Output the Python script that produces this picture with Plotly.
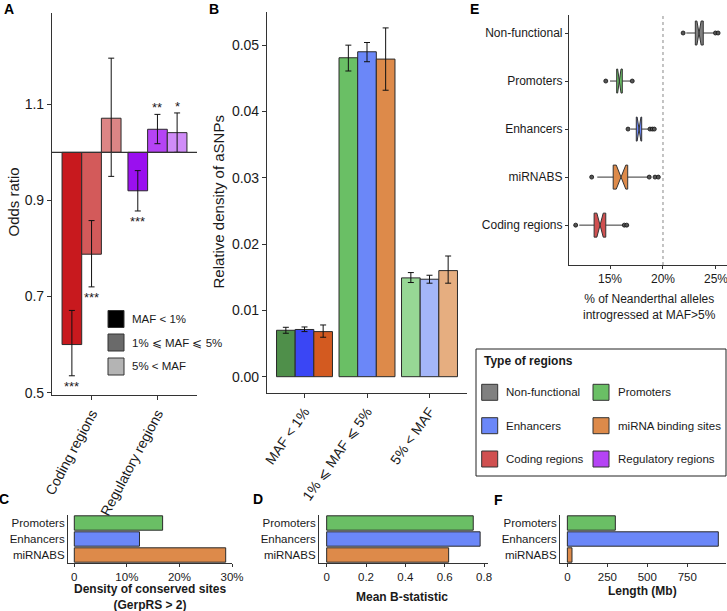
import plotly.graph_objects as go

W, H = 727, 611
def px(x): return x / W
def py(y): return 1 - y / H

FONT = "Liberation Sans, Arial, sans-serif"
AX = "#333333"
TXT = "#1a1a1a"

# ---------------- Panel A data ----------------
a_categories = ["Coding regions", "Regulatory regions"]
a_classes = ["MAF < 1%", "1% ⩽ MAF ⩽ 5%", "5% < MAF"]
a_odds_lt1 = [0.600, 0.920]
a_odds_1to5 = [0.788, 1.048]
a_odds_gt5 = [1.071, 1.041]
a_low_lt1 = [0.535, 0.878]
a_low_1to5 = [0.720, 1.018]
a_low_gt5 = [0.950, 1.000]
a_high_lt1 = [0.671, 0.962]
a_high_1to5 = [0.858, 1.079]
a_high_gt5 = [1.196, 1.082]
a_sig_lt1 = ["***", "***"]
a_sig_1to5 = ["***", "**"]
a_sig_gt5 = ["", "*"]
a_colors = [["#c8191e", "#9a10ef"], ["#d35a5a", "#b543f5"], ["#dc8585", "#d08cf8"]]
a_legend_colors = ["#000000", "#6a6a6a", "#b4b4b4"]

# ---------------- Panel B data ----------------
b_groups = ["MAF < 1%", "1% ⩽ MAF ⩽ 5%", "5% < MAF"]
b_regions = ["Promoters", "Enhancers", "miRNA binding sites"]
b_prom = [0.00700, 0.0481, 0.0149]
b_enh = [0.00712, 0.0490, 0.0147]
b_mir = [0.00680, 0.0479, 0.0160]
b_prom_lo = [0.00655, 0.0461, 0.0142]
b_prom_hi = [0.00745, 0.0500, 0.0157]
b_enh_lo = [0.00680, 0.0475, 0.0141]
b_enh_hi = [0.00750, 0.0504, 0.0153]
b_mir_lo = [0.00595, 0.0432, 0.0141]
b_mir_hi = [0.00780, 0.0526, 0.0182]
b_colors = [["#4f8f4a", "#6abf65", "#97d795"],
            ["#3a46f5", "#6b87f8", "#a4b6f9"],
            ["#d35a20", "#dd8a4a", "#e6ae80"]]

# ---------------- Panel E data ----------------
e_regions = ["Non-functional", "Promoters", "Enhancers", "miRNABS", "Coding regions"]
e_q1 = [23.05, 15.63, 17.48, 15.30, 13.50]
e_med = [23.40, 15.88, 17.74, 16.04, 14.06]
e_q3 = [23.80, 16.16, 17.99, 16.67, 14.60]
e_lo = [22.20, 15.00, 16.95, 13.80, 12.10]
e_hi = [24.75, 16.90, 18.60, 18.60, 16.26]
e_notch = [0.20, 0.16, 0.18, 0.45, 0.30]
e_out_x = [21.90, 24.95, 25.20, 14.60, 17.10, 16.70, 18.77, 18.99, 19.18,
           13.27, 18.70, 19.25, 19.56, 11.76, 16.35, 16.58]
e_out_y = ["Non-functional", "Non-functional", "Non-functional", "Promoters", "Promoters",
           "Enhancers", "Enhancers", "Enhancers", "Enhancers",
           "miRNABS", "miRNABS", "miRNABS", "miRNABS",
           "Coding regions", "Coding regions", "Coding regions"]
e_colors = ["#808080", "#6abf65", "#6b87f8", "#dd8a4a", "#d05050"]

# ---------------- Panels C, D, F data ----------------
cdf_regions = ["Promoters", "Enhancers", "miRNABS"]
cdf_colors = ["#6abf65", "#6b87f8", "#dd8a4a"]
c_conserved = [16.8, 12.4, 28.8]
d_bstat = [0.745, 0.780, 0.620]
f_length = [300, 944, 29]

# ---------------- Legend (E) data ----------------
leg_labels = ["Non-functional", "Promoters", "Enhancers", "miRNA binding sites",
              "Coding regions", "Regulatory regions"]
leg_colors = ["#808080", "#6abf65", "#6b87f8", "#dd8a4a", "#d05050", "#b543f5"]

BARGAP = 0.105
fig = go.Figure()

# ---- Panel A bars ----
a_vals = [a_odds_lt1, a_odds_1to5, a_odds_gt5]
a_lows = [a_low_lt1, a_low_1to5, a_low_gt5]
a_highs = [a_high_lt1, a_high_1to5, a_high_gt5]
a_sigs = [a_sig_lt1, a_sig_1to5, a_sig_gt5]
w = (1 - BARGAP) / 3
offs = [-w, 0, w]
for k in range(3):
    fig.add_trace(go.Bar(
        x=[0, 1], y=[v - 1 for v in a_vals[k]], base=1,
        marker=dict(color=a_colors[k], line=dict(color="#2a2a2a", width=1)),
        xaxis="x", yaxis="y", showlegend=False, name=a_classes[k]))
for k in range(3):
    xs = [i + offs[k] for i in range(2)]
    fig.add_trace(go.Scatter(
        x=xs, y=a_vals[k], mode="markers", marker=dict(size=0.1, color="rgba(0,0,0,0)"),
        error_y=dict(type="data", symmetric=False,
                     array=[h - v for h, v in zip(a_highs[k], a_vals[k])],
                     arrayminus=[v - l for l, v in zip(a_lows[k], a_vals[k])],
                     color="#111", thickness=1, width=3),
        xaxis="x", yaxis="y", showlegend=False, hoverinfo="skip"))

annotations = []
for k in range(3):
    for i in range(2):
        s = a_sigs[k][i]
        if not s:
            continue
        if a_vals[k][i] < 1:
            annotations.append(dict(x=i + offs[k], y=a_lows[k][i], xref="x", yref="y",
                                    text=s, showarrow=False, xanchor="center",
                                    yanchor="top", yshift=-1,
                                    font=dict(size=13, color=TXT, family=FONT)))
        else:
            annotations.append(dict(x=i + offs[k], y=a_highs[k][i], xref="x", yref="y",
                                    text=s, showarrow=False, xanchor="center",
                                    yanchor="bottom", yshift=-3,
                                    font=dict(size=13, color=TXT, family=FONT)))

# ---- Panel B bars ----
b_vals = [b_prom, b_enh, b_mir]
b_lows = [b_prom_lo, b_enh_lo, b_mir_lo]
b_highs = [b_prom_hi, b_enh_hi, b_mir_hi]
for k in range(3):
    fig.add_trace(go.Bar(
        x=[0, 1, 2], y=b_vals[k],
        marker=dict(color=b_colors[k], line=dict(color="#2a2a2a", width=1)),
        xaxis="x2", yaxis="y2", showlegend=False, name=b_regions[k]))
for k in range(3):
    xs = [i + offs[k] for i in range(3)]
    fig.add_trace(go.Scatter(
        x=xs, y=b_vals[k], mode="markers", marker=dict(size=0.1, color="rgba(0,0,0,0)"),
        error_y=dict(type="data", symmetric=False,
                     array=[h - v for h, v in zip(b_highs[k], b_vals[k])],
                     arrayminus=[v - l for l, v in zip(b_lows[k], b_vals[k])],
                     color="#111", thickness=1, width=3),
        xaxis="x2", yaxis="y2", showlegend=False, hoverinfo="skip"))

# ---- Panel E boxes ----
for i, name in enumerate(e_regions):
    fig.add_trace(go.Box(
        y=[name], q1=[e_q1[i]], median=[e_med[i]], q3=[e_q3[i]],
        lowerfence=[e_lo[i]], upperfence=[e_hi[i]], notchspan=[e_notch[i]],
        notched=True, notchwidth=0.5, orientation="h", fillcolor=e_colors[i],
        line=dict(color="#333", width=1), width=0.5, whiskerwidth=0,
        boxpoints=False, xaxis="x3", yaxis="y3", showlegend=False, name=name))
fig.add_trace(go.Scatter(
    x=e_out_x, y=e_out_y, mode="markers",
    marker=dict(size=4, color="#555", line=dict(color="#111", width=0.8)),
    xaxis="x3", yaxis="y3", showlegend=False))

# ---- Panels C, D, F ----
for vals, ax in [(c_conserved, "4"), (d_bstat, "5"), (f_length, "6")]:
    fig.add_trace(go.Bar(
        y=cdf_regions, x=vals, orientation="h", width=0.9,
        marker=dict(color=cdf_colors, line=dict(color="#2a2a2a", width=1)),
        xaxis="x" + ax, yaxis="y" + ax, showlegend=False))

def axis(**kw):
    base = dict(showline=True, linecolor=AX, linewidth=1.1, ticks="outside",
                ticklen=4, tickcolor=AX, tickwidth=1, showgrid=False, zeroline=False,
                automargin=False, ticklabeloverflow="allow",
                tickfont=dict(size=14, color=TXT, family=FONT), fixedrange=True)
    base.update(kw)
    return base

small_tick = dict(size=12, color=TXT, family=FONT)
bottom_tick = dict(size=11.5, color=TXT, family=FONT)
cat_tick = dict(size=11.5, color=TXT, family=FONT)

layout = dict(
    width=W, height=H, autosize=False,
    margin=dict(l=0, r=0, t=0, b=0, pad=0, autoexpand=False),
    paper_bgcolor="white", plot_bgcolor="white",
    barmode="group", bargap=BARGAP, bargroupgap=0,
    font=dict(family=FONT, color=TXT),
    xaxis=axis(domain=[px(52), px(197)], anchor="y", range=[-0.6, 1.6],
               tickvals=[0, 1], ticktext=a_categories, tickangle=-62),
    yaxis=axis(domain=[py(395), py(13)], anchor="x", range=[0.495, 1.29],
               tickvals=[0.5, 0.7, 0.9, 1.1], ticktext=["0.5", "0.7", "0.9", "1.1"]),
    xaxis2=axis(domain=[px(267), px(467)], anchor="y2", range=[-0.6, 2.6],
                tickvals=[0, 1, 2], ticktext=b_groups, tickangle=-55),
    yaxis2=axis(domain=[py(393), py(12)], anchor="x2", range=[-0.00246, 0.0550],
                tickvals=[0, 0.01, 0.02, 0.03, 0.04, 0.05],
                ticktext=["0.00", "0.01", "0.02", "0.03", "0.04", "0.05"]),
    xaxis3=axis(domain=[px(569), px(727)], anchor="y3", range=[11.13, 26.04],
                tickvals=[15, 20, 25], ticktext=["15%", "20%", "25%"], ticklen=3,
                tickfont=small_tick),
    yaxis3=axis(domain=[py(265), py(15)], anchor="x3", type="category",
                categoryarray=e_regions[::-1], categoryorder="array",
                range=[-0.83, 4.375], ticklen=3, tickfont=small_tick),
    xaxis4=axis(domain=[px(68), px(232)], anchor="y4", range=[-1.2, 30.0],
                tickvals=[0, 10, 20, 30], ticktext=["0", "10%", "20%", "30%"],
                ticklen=3, tickfont=bottom_tick),
    yaxis4=axis(domain=[py(563), py(515)], anchor="x4", type="category",
                categoryarray=cdf_regions[::-1], categoryorder="array",
                range=[-0.5, 2.5], ticks="", tickfont=cat_tick),
    xaxis5=axis(domain=[px(319), px(488)], anchor="y5", range=[-0.039, 0.82],
                tickvals=[0, 0.2, 0.4, 0.6, 0.8], ticktext=["0", "0.2", "0.4", "0.6", "0.8"],
                ticklen=3, tickfont=bottom_tick),
    yaxis5=axis(domain=[py(563), py(515)], anchor="x5", type="category",
                categoryarray=cdf_regions[::-1], categoryorder="array",
                range=[-0.5, 2.5], ticks="", tickfont=cat_tick),
    xaxis6=axis(domain=[px(560), px(726)], anchor="y6", range=[-46, 992],
                tickvals=[0, 250, 500, 750], ticktext=["0", "250", "500", "750"],
                ticklen=3, tickfont=bottom_tick),
    yaxis6=axis(domain=[py(563), py(515)], anchor="x6", type="category",
                categoryarray=cdf_regions[::-1], categoryorder="array",
                range=[-0.5, 2.5], ticks="", tickfont=cat_tick),
)

shapes = []
# reference line at OR = 1
shapes.append(dict(type="line", xref="x domain", yref="y", x0=0, x1=1, y0=1, y1=1,
                   line=dict(color="#333", width=1.1)))
# dotted line at 20% in E
shapes.append(dict(type="line", xref="x3", yref="y3 domain", x0=20, x1=20, y0=0, y1=1,
                   line=dict(color="#888", width=1, dash="dot")))

def note(x, y, text, size=12, angle=0, xanchor="center", color=TXT):
    return dict(x=px(x), y=py(y), xref="paper", yref="paper", text=text,
                showarrow=False, xanchor=xanchor, yanchor="middle", textangle=angle,
                align="center", font=dict(size=size, color=color, family=FONT))

# Panel A legend
leg_a_y = [319, 342.5, 366.5]
for k in range(3):
    shapes.append(dict(type="rect", xref="paper", yref="paper",
                       x0=px(108), x1=px(124), y0=py(leg_a_y[k] + 8.5), y1=py(leg_a_y[k] - 8.5),
                       fillcolor=a_legend_colors[k], line=dict(color="#333", width=1)))
    annotations.append(note(130, leg_a_y[k], a_classes[k], size=11.5, xanchor="left"))

# Type of regions legend box
shapes.append(dict(type="rect", xref="paper", yref="paper",
                   x0=px(476), x1=px(726), y0=py(476), y1=py(349),
                   fillcolor="white", line=dict(color="#222", width=1), layer="below"))
annotations.append(note(482, 361, "<b>Type of regions</b>", size=12, xanchor="left"))
rows_y = [392.3, 425.7, 459]
cols_x = [481.7, 593]
text_x = [504.3, 615.7]
for idx, (lab, col) in enumerate(zip(leg_labels, leg_colors)):
    r, c = idx // 2, idx % 2
    shapes.append(dict(type="rect", xref="paper", yref="paper",
                       x0=px(cols_x[c]), x1=px(cols_x[c] + 16),
                       y0=py(rows_y[r] + 8), y1=py(rows_y[r] - 8),
                       fillcolor=col, line=dict(color="#333", width=1)))
    annotations.append(note(text_x[c], rows_y[r], lab, size=11.5, xanchor="left"))

# Axis titles
annotations.append(note(12.5, 202, "Odds ratio", size=15, angle=-90))
annotations.append(note(217.5, 202, "Relative density of aSNPs", size=15, angle=-90))
annotations.append(note(649, 307, "% of Neanderthal alleles<br>introgressed at MAF>5%", size=12))
annotations.append(note(150, 596.5, "<b>Density of conserved sites</b><br><b>(GerpRS > 2)</b>", size=12))
annotations.append(note(401.7, 597, "<b>Mean B-statistic</b>", size=12))
annotations.append(note(642.7, 591, "<b>Length (Mb)</b>", size=12))

# Panel letters
for lab, x, y in [("A", 9, 9.5), ("B", 214, 9.5), ("E", 474.5, 8.5),
                  ("C", 4, 499), ("D", 258, 499), ("F", 498.5, 500)]:
    annotations.append(note(x, y, "<b>%s</b>" % lab, size=14, color="#000"))

layout["shapes"] = shapes
layout["annotations"] = annotations
fig.update_layout(**layout)
fig.write_html("out.html", config={"displayModeBar": False},
               post_script="document.body.style.margin='0px';document.body.style.padding='0px';")
